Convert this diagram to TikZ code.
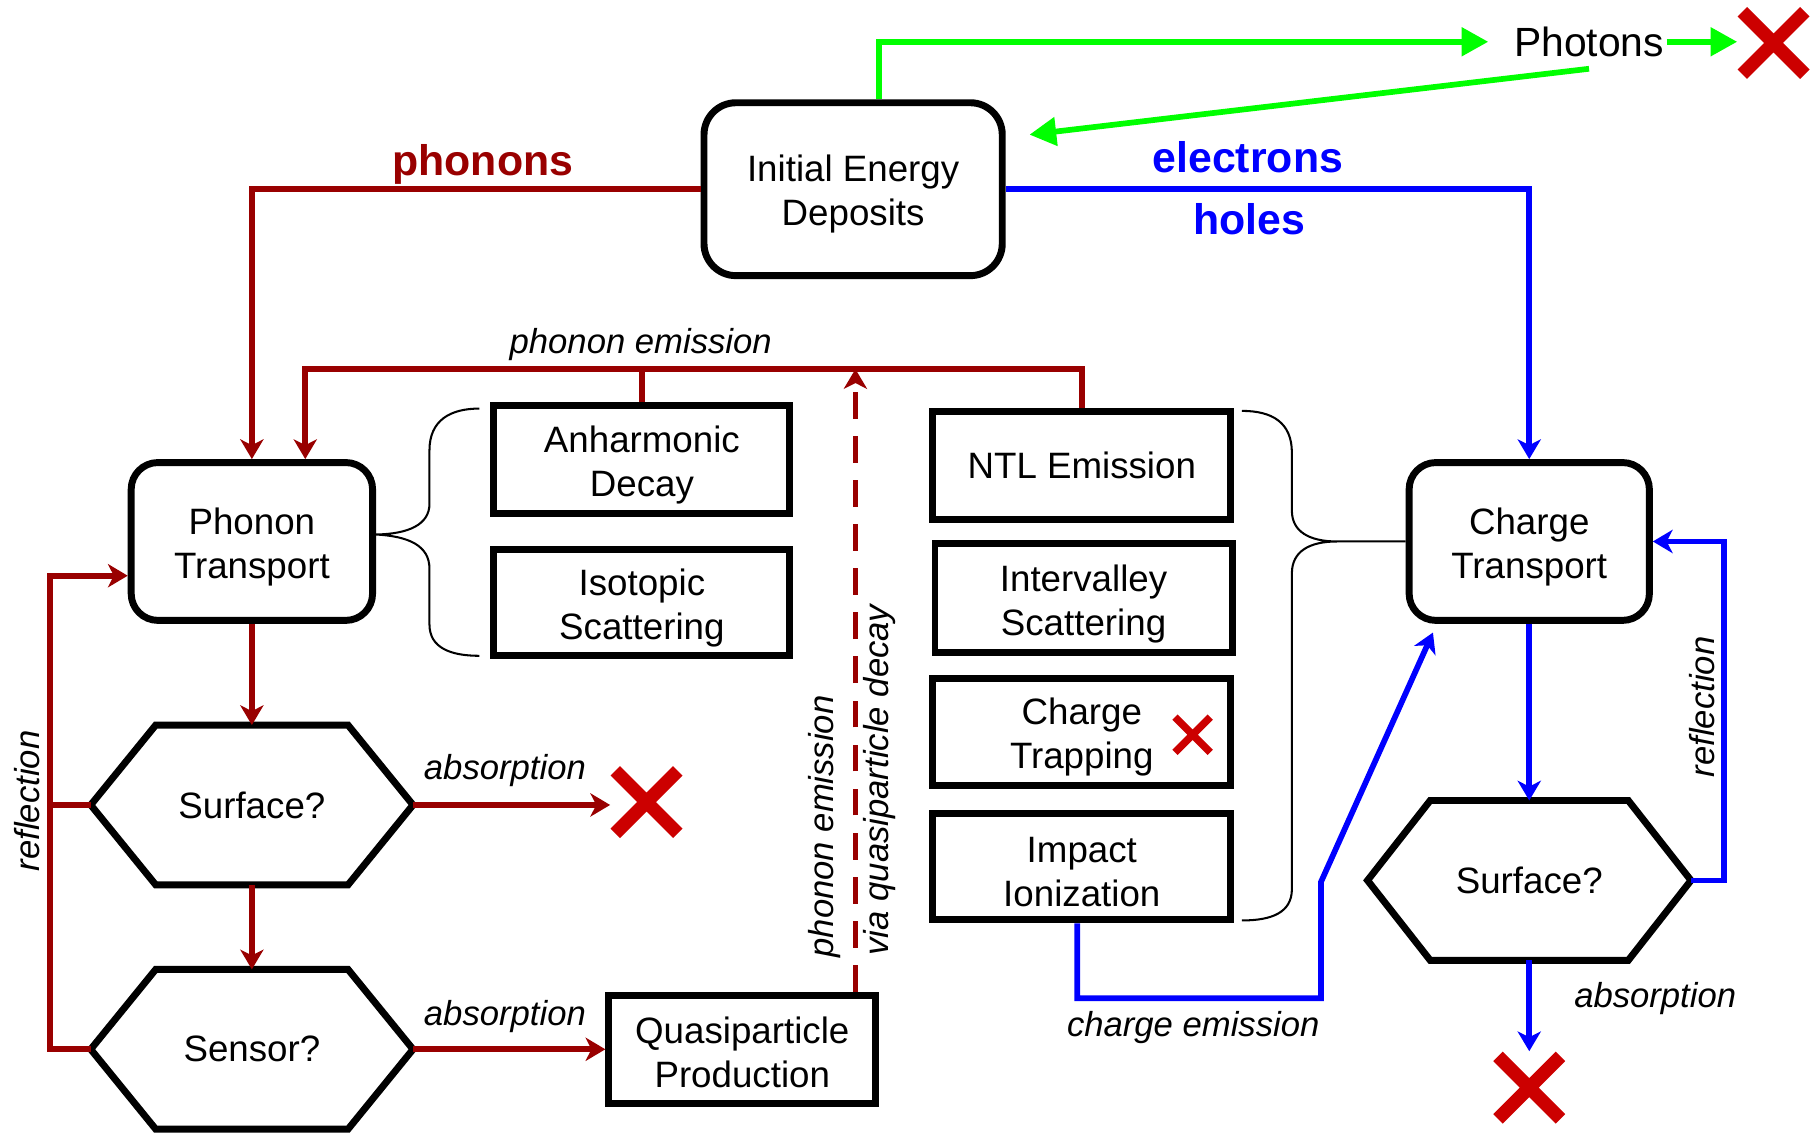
\documentclass[tikz,border=0pt]{standalone}
\usepackage{fontspec}
\setmainfont{Liberation Sans}
\usetikzlibrary{arrows.meta,calc}
\definecolor{dred}{RGB}{153,0,0}
\definecolor{xred}{RGB}{204,0,0}
\definecolor{eblue}{RGB}{0,0,255}
\definecolor{pgreen}{RGB}{0,255,0}
\newcommand\toppad{\rule{0pt}{18.2pt}}
\tikzset{
  boxfont/.style={font=\fontsize{18}{21.6}\selectfont},
  rbox/.style={draw, line width=3.4pt, rounded corners=0.46cm, align=center, boxfont, inner sep=0pt},
  sbox/.style={draw, line width=3.4pt, align=center, boxfont, inner sep=0pt},
  hexnode/.style={align=center, boxfont, inner sep=0pt, minimum width=5.54cm, minimum height=2.74cm},
  hexline/.style={line width=3.4pt},
  lbl/.style={font=\fontsize{17}{20}\selectfont\itshape, inner sep=0pt},
  blbl/.style={font=\fontsize{21}{25}\selectfont\bfseries, inner sep=0pt},
  tipR/.style={-{Stealth[length=0.34cm,width=0.4cm,inset=0.1cm]}},
  pline/.style={dred, line width=2.8pt, tipR},
  pplain/.style={dred, line width=2.8pt},
  bline/.style={eblue, line width=2.8pt, tipR},
  gline/.style={pgreen, line width=2.8pt, -{Triangle[length=0.46cm,width=0.48cm]}},
  brace/.style={line width=1pt},
  xmark/.style 2 args={minimum size=#1, inner sep=0pt,
    path picture={
      \draw[xred, line width=#2]
        ($(path picture bounding box.north west)+({#2*0.3536},{-#2*0.3536})$) --
        ($(path picture bounding box.south east)+({-#2*0.3536},{#2*0.3536})$)
        ($(path picture bounding box.north east)+({-#2*0.3536},{-#2*0.3536})$) --
        ($(path picture bounding box.south west)+({#2*0.3536},{#2*0.3536})$);
    }}
}
\begin{document}
\begin{tikzpicture}[x=0.02cm, y=-0.02cm]
\useasboundingbox (0,0) rectangle (1568,976);

% ---- nodes
\node[rbox, rounded corners=0.55cm, minimum width=5.14cm, minimum height=2.98cm] (ied) at (735,163) {\toppad Initial Energy\\Deposits};
\node[rbox, minimum width=4.16cm, minimum height=2.72cm] (pt) at (217,466.5) {\toppad Phonon\\Transport};
\node[rbox, minimum width=4.14cm, minimum height=2.72cm] (ct) at (1317.5,466.5) {\toppad Charge\\Transport};
\node[sbox, minimum width=5.1cm, minimum height=1.86cm] (ad) at (553,396) {\toppad Anharmonic\\Decay};
\node[sbox, minimum width=5.1cm, minimum height=1.82cm] (is) at (553,519) {\toppad Isotopic\\Scattering};
\node[sbox, minimum width=5.14cm, minimum height=1.86cm] (ntl) at (932,401) {NTL Emission};
\node[sbox, minimum width=5.12cm, minimum height=1.88cm] (iv) at (933.5,515.5) {\toppad Intervalley\\Scattering};
\node[sbox, minimum width=5.14cm, minimum height=1.84cm] (ctp) at (932,630.5) {\toppad Charge\\Trapping};
\node[sbox, minimum width=5.14cm, minimum height=1.84cm] (ii) at (932,746.5) {\toppad Impact\\Ionization};
\node[sbox, minimum width=4.6cm, minimum height=1.86cm] (qp) at (639.5,904) {\rule{0pt}{16pt}Quasiparticle\\Production};

\node[hexnode] (sf1) at (217,693.5) {Surface?};
\node[hexnode] (sn) at (217,904) {Sensor?};
\node[hexnode, minimum width=5.56cm] (sf2) at (1317.5,758.5) {Surface?};
\foreach \h/\c in {sf1/1.12cm, sn/1.12cm, sf2/1.08cm} {
  \draw[hexline] (\h.west) -- ([xshift=\c]\h.north west) -- ([xshift=-\c]\h.north east) -- (\h.east)
    -- ([xshift=-\c]\h.south east) -- ([xshift=\c]\h.south west) -- cycle;
}

\node[font=\fontsize{20}{24}\selectfont, inner xsep=0.04cm, inner ysep=0.2cm] (ph) at (1369,36) {Photons};

\node[xmark={1.24cm}{0.23cm}] (x1) at (1528,37) {};
\node[xmark={1.24cm}{0.23cm}] (x2) at (557,691) {};
\node[xmark={1.24cm}{0.23cm}] (x3) at (1317.5,937) {};
\node[xmark={0.7cm}{0.13cm}] (x4) at (1027.5,633) {};

% ---- labels
\node[blbl, text=dred] (lph) at (416,142) {phonons};
\node[blbl, text=eblue] (lel) at (1075,135) {electrons};
\node[blbl, text=eblue] (lho) at (1076,189) {holes};
\node[lbl] (lpe) at (552,297) {phonon emission};
\node[lbl, rotate=90] (lpe2) at (710,712) {phonon emission};
\node[lbl, rotate=90] (lvq) at (758,672) {via quasiparticle decay};
\node[lbl] (lab1) at (435,664) {absorption};
\node[lbl] (lab2) at (435,876) {absorption};
\node[lbl] (lab3) at (1426,860) {absorption};
\node[lbl, rotate=90] (lrf1) at (23,690) {reflection};
\node[lbl, rotate=90] (lrf2) at (1466,609) {reflection};
\node[lbl] (lce) at (1028,885) {charge emission};

% ---- photons
\draw[gline] ([xshift=0.44cm]ied.north) |- ([xshift=-0.4cm]ph.west);
\draw[gline] (ph.east) -- (ph.east -| x1.west);
\draw[gline] (ph.south) -- ([shift={(0.41cm,0.94cm)}]ied.east);

% ---- phonons / electrons
\draw[pline] (ied.west) -| (pt.north);
\draw[bline] (ied.east) -| (ct.north);

% ---- phonon emission
\coordinate (peL) at (263,318);
\draw[pline] (ntl.north) |- (peL) -- (peL |- pt.north);
\draw[pplain] (ad.north) -- (ad.north |- peL);
\coordinate (qpd) at ($(qp.north east)+(-0.41cm,0)$);
\draw[pline, dash pattern=on 0.46cm off 0.3cm] (qpd) -- (qpd |- peL);

% ---- left flow
\draw[pline] (pt.south) -- (sf1.north);
\draw[pline] (sf1.south) -- (sn.north);
\draw[pline] (sf1.east) -- (sf1.east -| x2.west);
\draw[pline] (sn.east) -- (qp.west);
\coordinate (rl) at (43,496);
\draw[pline] (sn.west) -| (rl) -- (rl -| pt.west);
\draw[pplain] (sf1.west) -- (sf1.west -| rl);

% ---- right flow
\draw[bline] (ct.south) -- (sf2.north);
\draw[bline] (sf2.south) -- (x3.north);
\coordinate (rr) at (1485,466.5);
\draw[bline] (sf2.east) -| (rr) -- (ct.east);

% ---- charge emission
\coordinate (ce1) at (1138,860);
\coordinate (ce2) at (1138,760);
\coordinate (cet) at ($(ct.south west)+(0.47cm,-0.15cm)$);
\draw[bline] ([xshift=-0.08cm]ii.south) |- (ce1) -- (ce2) -- (cet);

% ---- braces
\draw[brace] (413,352) .. controls (388,352) and (370,362) .. (370,388) -- (370,434)
  .. controls (370,452) and (352,460) .. ([yshift=0.12cm]pt.east)
  .. controls (352,462) and (370,470) .. (370,490) -- (370,538)
  .. controls (370,558) and (388,565) .. (413,565);
\coordinate (rb) at (1152,466.5);
\draw[brace] (1070,354) .. controls (1096,354) and (1113,364) .. (1113,390) -- (1113,440)
  .. controls (1113,458) and (1128,466.5) .. (rb) -- (ct.west)
  (rb) .. controls (1128,466.5) and (1113,475) .. (1113,494) -- (1113,766)
  .. controls (1113,786) and (1096,793) .. (1070,793);
\end{tikzpicture}
\end{document}
